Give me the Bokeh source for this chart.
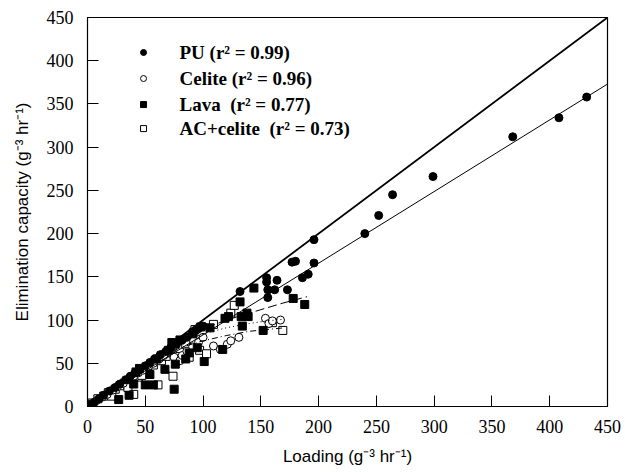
import numpy as np
from bokeh.plotting import figure
from bokeh.models import Range1d, FixedTicker, Label
from bokeh.embed import file_html
from bokeh.resources import INLINE

# ---------------- data ----------------
pu_x = [2, 6, 10, 14, 19, 24, 28, 33, 37, 41, 45, 50, 54, 58, 63, 68, 72, 77, 82, 86, 91, 96, 100,
        132, 155, 155, 164, 156, 162, 156, 173, 177, 180, 186, 191, 196, 196, 240, 252, 264, 299, 368, 408, 432]
pu_y = [2, 5, 9, 13, 18, 22, 26, 31, 35, 39, 43, 47, 51, 55, 60, 64, 68, 72, 77, 80, 86, 90, 93,
        133, 149, 144, 146, 135, 135, 126, 135, 167, 168, 149, 153, 166, 193, 200, 221, 245, 266, 312, 334, 358]

lava_x = [27, 36, 40, 42, 45, 50, 57, 54, 60, 67, 70, 76, 75, 73, 80, 85, 88, 91, 95, 98, 101, 106, 117, 119,
          122, 132, 133, 134, 138, 139, 144, 152, 178, 188]
lava_y = [8, 13, 26, 40, 44, 25, 25, 37, 55, 43, 65, 49, 20, 74, 77, 55, 62, 84, 68, 92, 52, 91, 66, 102,
          104, 121, 104, 93, 108, 104, 137, 88, 125, 118]

celite_x = [3, 8, 13, 17, 22, 26, 31, 36, 40, 44, 48, 53, 57, 62, 66, 71, 75, 80, 82, 86, 91, 96, 100,
            109, 115, 121, 124, 131, 154, 157, 160, 167]
celite_y = [3, 7, 11, 14, 19, 23, 27, 32, 35, 39, 42, 47, 50, 55, 59, 63, 57, 53, 59, 64, 69, 74, 80,
            70, 66, 72, 76, 80, 102, 96, 99, 100]

ac_x = [4, 9, 14, 18, 21, 24, 28, 32, 35, 38, 40, 44, 47, 52, 57, 61, 64, 68, 72, 74, 80, 85, 88, 92,
        93, 97, 103, 109, 124, 127, 160, 169]
ac_y = [4, 9, 12, 16, 12, 20, 24, 27, 22, 31, 14, 34, 36, 44, 48, 25, 53, 58, 62, 35, 67, 72, 57, 86,
        89, 65, 61, 95, 108, 117, 97, 88]

# 1:1 line and fitted curves
one_to_one = [0, 450]
pu_fit_x = [0, 450]
pu_fit_y = [0, 373]
lava_fit_x = [0, 40, 80, 110, 130, 150, 170, 190]
lava_fit_y = [0, 40, 77, 95, 104, 112, 120, 127]
celite_fit_x = [0, 40, 80, 100, 120, 140, 155, 170]
celite_fit_y = [0, 40, 74, 84, 91, 96, 99, 101]
ac_fit_x = [0, 40, 80, 100, 120, 140, 155, 170]
ac_fit_y = [0, 39, 68, 76, 82, 87, 89, 91]

ticks = [0, 50, 100, 150, 200, 250, 300, 350, 400, 450]

legend_labels = ["PU (r\u00b2 = 0.99)", "Celite (r\u00b2 = 0.96)",
                 "Lava \u00a0(r\u00b2 = 0.77)", "AC+celite \u00a0(r\u00b2 = 0.73)"]

# ---------------- figure ----------------
p = figure(width=625, height=472, output_backend="svg", toolbar_location=None,
           x_range=Range1d(0, 450), y_range=Range1d(0, 450),
           min_border_left=87, min_border_right=18, min_border_top=17, min_border_bottom=66)
p.grid.visible = False
p.outline_line_color = "black"
p.outline_line_width = 1.2
p.outline_line_alpha = 1.0
p.background_fill_color = "white"
p.border_fill_color = "white"

for ax in (p.xaxis[0], p.yaxis[0]):
    ax.ticker = FixedTicker(ticks=ticks)
    ax.major_tick_in = 11
    ax.major_tick_out = 0
    ax.minor_tick_in = 0
    ax.minor_tick_out = 0
    ax.axis_line_color = "black"
    ax.major_tick_line_color = "black"
    ax.major_label_text_font = "Liberation Serif"
    ax.major_label_text_font_size = "18px"
    ax.major_label_text_color = "black"
    ax.axis_label_text_font = "Liberation Sans"
    ax.axis_label_text_font_style = "normal"
    ax.axis_label_text_font_size = "17px"
    ax.axis_label_text_color = "black"

p.xaxis[0].major_label_standoff = 13
p.yaxis[0].major_label_standoff = 14
p.xaxis[0].axis_label = "Loading (g\u207b\u00b3 hr\u207b\u00b9)"
p.yaxis[0].axis_label = "Elimination capacity (g\u207b\u00b3 hr\u207b\u00b9)"
p.xaxis[0].axis_label_standoff = 11
p.yaxis[0].axis_label_standoff = 12

# data points
p.scatter(ac_x, ac_y, marker="square", size=8, fill_color="white", line_color="black", line_width=1)
p.scatter(celite_x, celite_y, marker="circle", size=8, fill_color="white", line_color="black", line_width=1)
p.scatter(lava_x, lava_y, marker="square", size=8, fill_color="black", line_color="black")
p.scatter(pu_x, pu_y, marker="circle", size=8, fill_color="black", line_color="black")

# lines
p.line(one_to_one, one_to_one, line_color="black", line_width=1.8)
p.line(pu_fit_x, pu_fit_y, line_color="black", line_width=1)
p.line(lava_fit_x, lava_fit_y, line_color="black", line_width=1, line_dash="9 4")
p.line(celite_fit_x, celite_fit_y, line_color="black", line_width=1, line_dash="1 3")
p.line(ac_fit_x, ac_fit_y, line_color="black", line_width=1, line_dash="6 3 1 3")

# legend (manual)
leg_marker_x = 48.5
leg_text_x = 79.6
leg_rows = [409.5, 379.4, 349.3, 321.5]
leg_styles = [("circle", "black"), ("circle", "white"), ("square", "black"), ("square", "white")]
for (mk, fc), yy, lab in zip(leg_styles, leg_rows, legend_labels):
    p.scatter([leg_marker_x], [yy], marker=mk, size=6, fill_color=fc, line_color="black", line_width=1)
    p.add_layout(Label(x=leg_text_x, y=yy, text=lab, text_font="Liberation Serif",
                       text_font_style="bold", text_font_size="19px", text_color="black",
                       text_baseline="middle", text_align="left"))

open("out.html", "w").write(file_html(p, INLINE))
